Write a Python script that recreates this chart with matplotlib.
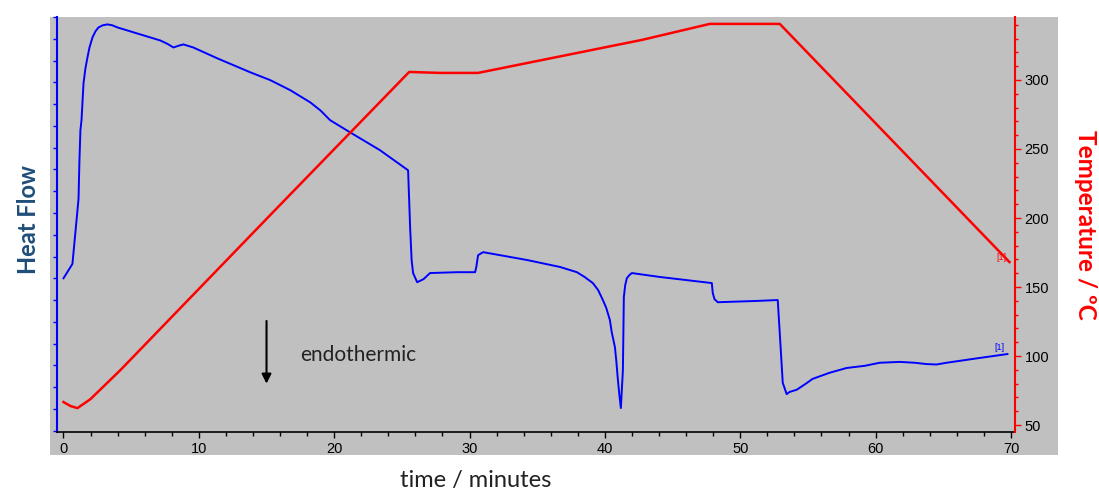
import matplotlib
matplotlib.use("Agg")
import matplotlib.pyplot as plt
from matplotlib.patches import Rectangle
from matplotlib.ticker import MultipleLocator, NullFormatter

# heat flow trace (arbitrary units)
hf_time = [0.0, 0.66, 1.11, 1.18, 1.25, 1.33, 1.48, 1.62, 1.77, 1.92, 2.14, 2.36,
           2.58, 2.90, 3.25, 3.60, 3.99, 5.68,
           7.16, 7.70, 8.12, 8.50, 8.86, 9.59, 11.37, 13.80, 15.28, 16.75, 18.23,
           19.00, 19.70, 21.18, 23.39, 25.46, 25.61, 25.72, 25.83, 26.13, 26.60,
           27.08, 29.08, 30.41, 30.50, 30.63, 31.00,
           34.24, 36.68, 37.93, 38.50, 39.11, 39.50, 39.85, 40.10, 40.37, 40.50,
           40.74, 40.85, 40.96, 41.07, 41.18, 41.33, 41.40, 41.50, 41.62, 41.80,
           41.99, 44.06, 47.90, 47.97, 48.10, 48.34, 51.22, 52.77, 52.92,
           53.14, 53.43, 53.65, 54.17, 54.80, 55.35, 56.60, 57.86, 59.20, 60.30,
           61.77, 62.90, 63.76, 64.50, 65.24, 67.68, 69.74]
hf_value = [3.00, 3.33, 4.82, 5.73, 6.40, 6.63, 7.48, 7.82, 8.07, 8.30, 8.53, 8.67,
            8.76, 8.81, 8.83, 8.81, 8.76, 8.60,
            8.46, 8.38, 8.30, 8.34, 8.37, 8.30, 8.05, 7.73, 7.55, 7.32, 7.04,
            6.85, 6.63, 6.35, 5.94, 5.48, 4.17, 3.42, 3.12, 2.91, 2.98,
            3.12, 3.14, 3.14, 3.26, 3.53, 3.60,
            3.42, 3.26, 3.14, 3.03, 2.89, 2.73, 2.50, 2.32, 2.04, 1.77,
            1.42, 1.08, 0.67, 0.32, 0.02, 0.89, 2.57, 2.84, 3.00, 3.07,
            3.12, 3.03, 2.89, 2.66, 2.52, 2.45, 2.48, 2.50, 1.74,
            0.60, 0.34, 0.39, 0.44, 0.57, 0.69, 0.83, 0.94, 0.99, 1.06,
            1.08, 1.06, 1.03, 1.02, 1.06, 1.17, 1.26]

# temperature program
temp_time = [0.0, 0.52, 1.03, 1.99, 4.21, 15.28, 25.54, 27.82, 30.63, 42.73, 47.75, 52.92, 69.89]
temp_value = [66.7, 63.8, 62.3, 68.8, 89.9, 202.2, 305.8, 305.1, 305.1, 329.0, 340.6, 340.6, 168.1]

temp_ticks = [50, 100, 150, 200, 250, 300]
time_ticks = [0, 10, 20, 30, 40, 50, 60, 70]

GRAY = "#C0C0C0"
tick_font = "Liberation Sans"
label_font = "Lato"

fig = plt.figure(figsize=(10.99, 4.91), dpi=100)
fig.patch.set_facecolor("white")
# gray panel behind the plot and tick labels
fig.patches.append(Rectangle((50 / 1099, 1 - 455 / 491), 1008 / 1099, 438 / 491,
                             transform=fig.transFigure, facecolor=GRAY,
                             edgecolor="none", zorder=-10))

ax = fig.add_axes([57 / 1099, 1 - 432 / 491, 958 / 1099, 415 / 491])
ax.set_facecolor(GRAY)
ax2 = ax.twinx()

ax.plot(hf_time, hf_value, color="#0000FF", lw=1.4, zorder=3)
ax2.plot(temp_time, temp_value, color="#FF0000", lw=1.8)

ax.set_xlim(-0.48, 70.3)
ax.set_ylim(-0.53, 9.0)
ax2.set_ylim(45, 345.6)

# x axis
ax.set_xticks(time_ticks)
ax.xaxis.set_minor_locator(MultipleLocator(2))
ax.tick_params(axis="x", which="major", direction="out", length=4, width=1,
               labelsize=10.5, pad=3, colors="black")
ax.tick_params(axis="x", which="minor", direction="out", length=3, width=1)
for lab in ax.get_xticklabels():
    lab.set_family(tick_font)

# left heat flow axis, no numbers
ax.yaxis.set_major_locator(MultipleLocator(1))
ax.yaxis.set_minor_locator(MultipleLocator(0.5))
ax.yaxis.set_major_formatter(NullFormatter())
ax.tick_params(axis="y", which="both", direction="out", length=3, width=1,
               color="#0000FF")

# right temperature axis
ax2.set_yticks(temp_ticks)
ax2.yaxis.set_minor_locator(MultipleLocator(10))
ax2.tick_params(axis="y", which="major", direction="out", length=4, width=1,
                color="#FF0000", labelcolor="black", labelsize=10.5, pad=3)
ax2.tick_params(axis="y", which="minor", direction="out", length=2.5, width=1,
                color="#FF0000")
for lab in ax2.get_yticklabels():
    lab.set_family(tick_font)

for s in ["top", "right"]:
    ax.spines[s].set_visible(False)
ax.spines["left"].set_color("#0000FF")
ax.spines["left"].set_linewidth(1.5)
ax.spines["bottom"].set_color("black")
ax.spines["bottom"].set_linewidth(1.2)
for s in ["top", "left", "bottom"]:
    ax2.spines[s].set_visible(False)
ax2.spines["right"].set_color("#FF0000")
ax2.spines["right"].set_linewidth(1.5)

# curve end markers
ax.text(69.5, 1.3, "[1]", color="#0000FF", fontsize=6.5, ha="right", va="bottom",
        family=tick_font)
ax2.text(69.7, 168, "[1]", color="#FF0000", fontsize=6.5, ha="right", va="bottom",
         family=tick_font)

# endothermic note
ax.annotate("", xy=(15.0, 0.58), xytext=(15.0, 2.02),
            arrowprops=dict(arrowstyle="-|>", color="black", lw=1.5,
                            mutation_scale=14, shrinkA=0, shrinkB=0))
ax.text(17.5, 1.24, "endothermic", fontsize=15, va="center", ha="left",
        color="#222222", family=label_font)

# axis titles
fig.text(28 / 1099, 1 - 220 / 491, "Heat Flow", rotation=90, ha="center",
         va="center", fontsize=17, fontweight="bold", color="#1F4E79",
         family=label_font)
fig.text(1085 / 1099, 1 - 225 / 491, "Temperature / \u00baC", rotation=270,
         ha="center", va="center", fontsize=17.5, fontweight="bold",
         color="#FF0000", family=label_font)
fig.text(476 / 1099, 1 - 481 / 491, "time / minutes", ha="center", va="center",
         fontsize=17, color="#222222", family=label_font)

fig.savefig("out.png", dpi=100)
